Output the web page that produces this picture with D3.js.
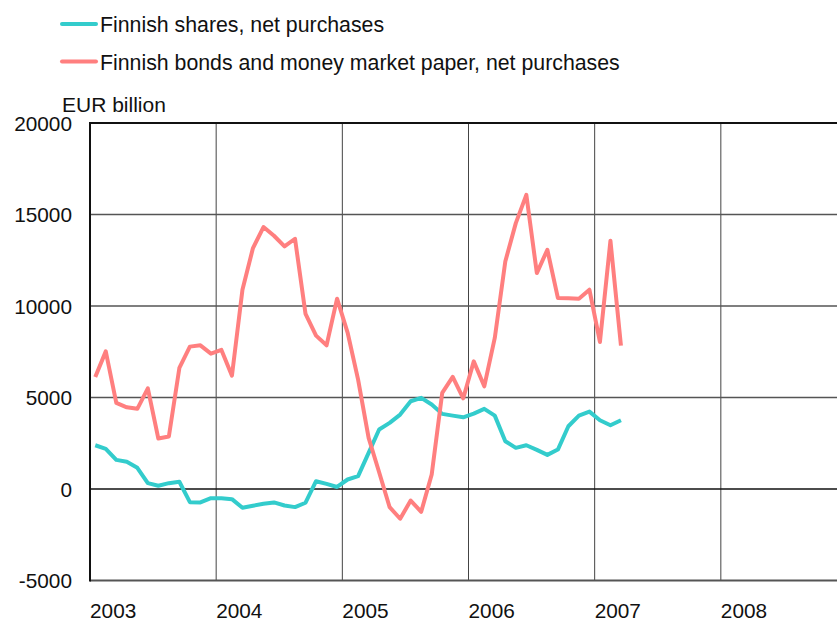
<!DOCTYPE html>
<html>
<head>
<meta charset="utf-8">
<script src="https://cdn.jsdelivr.net/npm/d3@7"></script>
<style>
  html, body { margin: 0; padding: 0; background: #fff; }
  svg { display: block; font-family: "Liberation Sans", Arial, sans-serif; }
</style>
</head>
<body>
<svg id="chart" width="837" height="624"></svg>
<script>
// ---- Data (monthly, Jan 2003 – Mar 2007) ----
const startYear = 2003;
const yearLabels = ["2003", "2004", "2005", "2006", "2007", "2008"];
const yTicks = [-5000, 0, 5000, 10000, 15000, 20000];

const seriesNames = [
  "Finnish shares, net purchases",
  "Finnish bonds and money market paper, net purchases"
];

const shares = [
  2390, 2195, 1590, 1485, 1160, 320, 175, 320, 395, -720, -735, -500,
  -500, -555, -1025, -915, -810, -735, -900, -990, -750, 425, 280, 110,
  519, 700, 1975, 3250, 3615, 4065, 4795, 4980, 4615, 4105, 4010, 3920,
  4120, 4380, 4010, 2610, 2250, 2390, 2140, 1865, 2155, 3430, 4010, 4230,
  3755, 3485, 3755
];

const bonds = [
  6125, 7520, 4705, 4465, 4380, 5500, 2755, 2865, 6615, 7780, 7850, 7395,
  7600, 6195, 10890, 13165, 14315, 13840, 13255, 13675, 9565, 8380, 7850, 10400,
  8550, 5980, 2795, 915, -995, -1625, -630, -1245, 790, 5250, 6125, 4955,
  6975, 5610, 8255, 12435, 14530, 16075, 11800, 13075, 10440, 10420, 10400, 10890,
  8035, 13565, 7835
];

const colors = ["#33CCCC", "#FF7F7F"];

// ---- Layout ----
const svg = d3.select("#chart");
const mLeft = 90, mRight = 847, mTop = 123, mBottom = 580.5;

const x = d3.scaleLinear().domain([0, 72]).range([mLeft, mRight]);
const y = d3.scaleLinear().domain([-5000, 20000]).range([mBottom, mTop]);

// vertical year gridlines
const yearIdx = yearLabels.map((d, i) => i * 12);
svg.append("g").selectAll("line")
  .data(yearIdx.slice(1))
  .join("line")
  .attr("x1", d => x(d)).attr("x2", d => x(d))
  .attr("y1", mTop).attr("y2", mBottom)
  .attr("stroke", "#444").attr("stroke-width", 1);

// horizontal gridlines
svg.append("g").selectAll("line")
  .data(yTicks)
  .join("line")
  .attr("x1", mLeft).attr("x2", 837)
  .attr("y1", d => y(d)).attr("y2", d => y(d))
  .attr("stroke", d => (d === 20000 || d === 0) ? "#111" : "#555")
  .attr("stroke-width", d => (d === 20000 || d === -5000) ? 2 : 1.4);

// left axis line
svg.append("line")
  .attr("x1", mLeft).attr("x2", mLeft)
  .attr("y1", mTop - 1).attr("y2", mBottom + 1)
  .attr("stroke", "#111").attr("stroke-width", 2);

// y tick labels
svg.append("g").selectAll("text")
  .data(yTicks)
  .join("text")
  .attr("x", 72).attr("y", d => y(d))
  .attr("text-anchor", "end")
  .attr("dominant-baseline", "central")
  .attr("font-size", 20.8)
  .attr("fill", "#111")
  .text(d => d);

// x tick labels (left-aligned at year gridline)
svg.append("g").selectAll("text")
  .data(yearLabels)
  .join("text")
  .attr("x", (d, i) => x(i * 12))
  .attr("y", 618)
  .attr("font-size", 20.8)
  .attr("fill", "#111")
  .text(d => d);

// unit label
svg.append("text")
  .attr("x", 62).attr("y", 112)
  .attr("font-size", 21)
  .attr("fill", "#111")
  .text("EUR billion");

// lines
const line = d3.line()
  .x((d, i) => x(i + 0.5))
  .y(d => y(d));

[shares, bonds].forEach((s, k) => {
  svg.append("path")
    .datum(s)
    .attr("d", line)
    .attr("fill", "none")
    .attr("stroke", colors[k])
    .attr("stroke-width", 4)
    .attr("stroke-linejoin", "round");
});

// legend
const legY = [24, 61.5];
const leg = svg.append("g");
seriesNames.forEach((name, k) => {
  leg.append("line")
    .attr("x1", 62).attr("x2", 96)
    .attr("y1", legY[k]).attr("y2", legY[k])
    .attr("stroke", colors[k]).attr("stroke-width", 4)
    .attr("stroke-linecap", "round");
  leg.append("text")
    .attr("x", 100).attr("y", legY[k] + 8)
    .attr("font-size", 21.3)
    .attr("fill", "#111")
    .text(name);
});
</script>
</body>
</html>
